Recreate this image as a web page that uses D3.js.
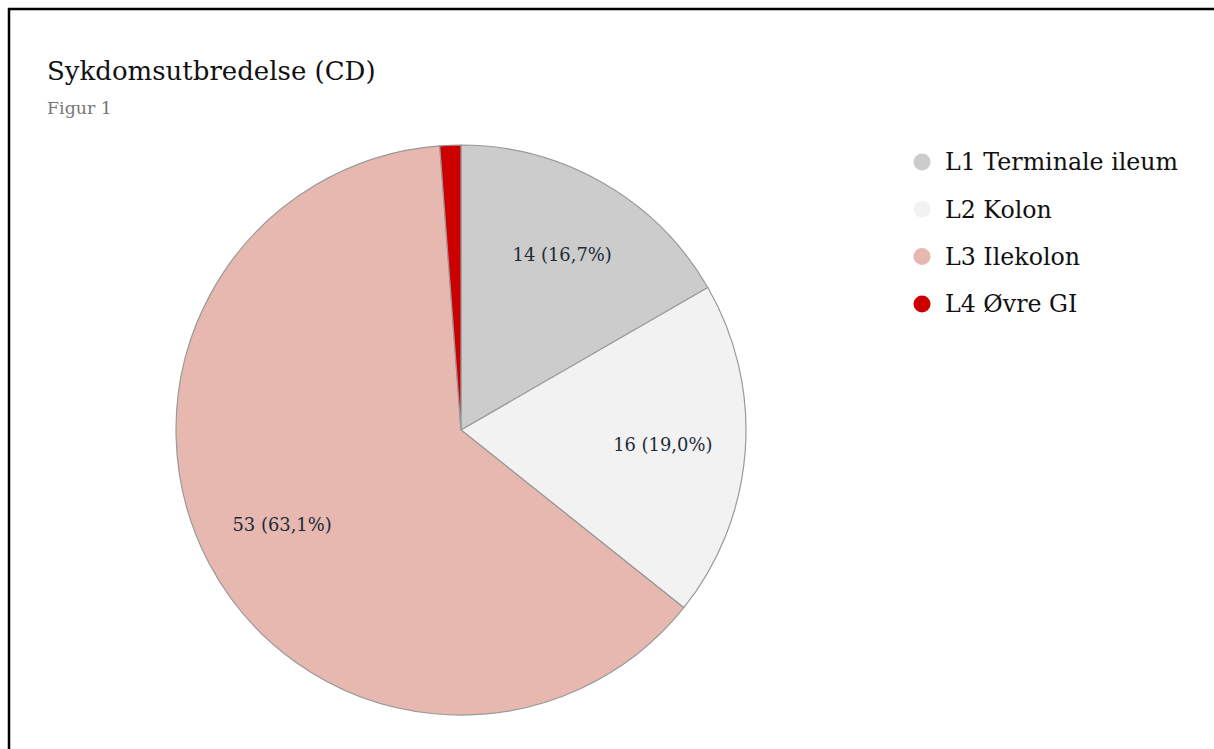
<!DOCTYPE html>
<html>
<head>
<meta charset="utf-8">
<script src="https://cdn.jsdelivr.net/npm/d3@7"></script>
<style>
  body { margin: 0; background: #fff; }
  svg { display: block; }
  text { font-family: Georgia, "DejaVu Serif", serif; }
</style>
</head>
<body>
<div id="chart"></div>
<script>
// data
var categories = ["L1 Terminale ileum", "L2 Kolon", "L3 Ilekolon", "L4 Øvre GI"];
var counts = [14, 16, 53, 1];
var colors = ["#cccccc", "#f2f2f2", "#e6b8b0", "#cc0000"];

var width = 1214, height = 749;

var svg = d3.select("#chart").append("svg")
    .attr("width", width)
    .attr("height", height);

// frame (runs off the right and bottom edges)
svg.append("rect")
    .attr("x", 9).attr("y", 9)
    .attr("width", 1240).attr("height", 780)
    .attr("fill", "#fff")
    .attr("stroke", "#000")
    .attr("stroke-width", 2.5);

svg.append("text")
    .attr("x", 47).attr("y", 80)
    .attr("font-size", 26)
    .attr("fill", "#111")
    .text("Sykdomsutbredelse (CD)");

svg.append("text")
    .attr("x", 47).attr("y", 114)
    .attr("font-size", 17.4)
    .attr("fill", "#777")
    .text("Figur 1");

var total = d3.sum(counts);
var data = categories.map(function(c, i) { return {name: c, value: counts[i], color: colors[i]}; });

var r = 285;
var g = svg.append("g").attr("transform", "translate(461,430)");

var pie = d3.pie().sort(null).value(function(d) { return d.value; });
var arc = d3.arc().innerRadius(0).outerRadius(r);
var labelArc = d3.arc().innerRadius(r * 0.71).outerRadius(r * 0.71);

var fmt = function(v) { return (v / total * 100).toFixed(1).replace(".", ","); };

g.selectAll("path")
    .data(pie(data))
    .enter().append("path")
    .attr("d", arc)
    .attr("fill", function(d) { return d.data.color; })
    .attr("stroke", "#999")
    .attr("stroke-width", 1.2);

g.selectAll("text.lbl")
    .data(pie(data).filter(function(d) { return d.data.value / total > 0.05; }))
    .enter().append("text")
    .attr("class", "lbl")
    .attr("transform", function(d) { return "translate(" + labelArc.centroid(d) + ")"; })
    .attr("text-anchor", "middle")
    .attr("dy", "0.35em")
    .attr("font-size", 17.9)
    .attr("fill", "#1c2a38")
    .text(function(d) { return d.data.value + " (" + fmt(d.data.value) + "%)"; });

// legend
var legend = svg.append("g").attr("transform", "translate(922,162)");
var item = legend.selectAll("g")
    .data(data)
    .enter().append("g")
    .attr("transform", function(d, i) { return "translate(0," + (i * 47.3) + ")"; });
item.append("circle")
    .attr("r", 8.5)
    .attr("fill", function(d) { return d.color; });
item.append("text")
    .attr("x", 23)
    .attr("dy", "0.35em")
    .attr("font-size", 23.7)
    .attr("fill", "#111")
    .text(function(d) { return d.name; });
</script>
</body>
</html>
